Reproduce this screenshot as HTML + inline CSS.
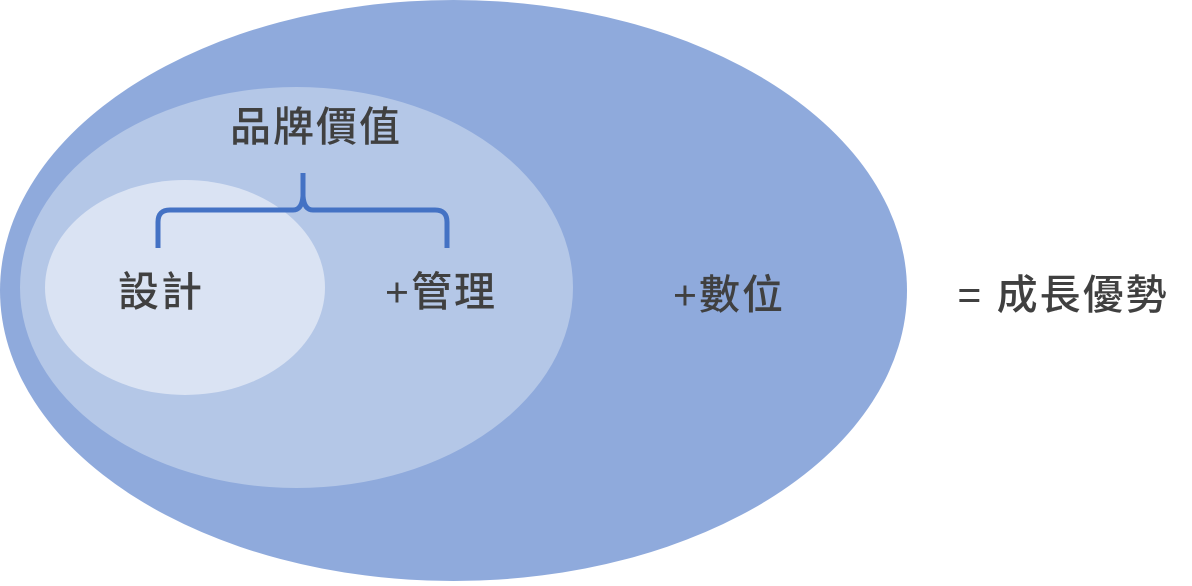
<!DOCTYPE html>
<html><head><meta charset="utf-8"><style>
html,body{margin:0;padding:0;background:#fff;}
body{width:1192px;height:581px;position:relative;overflow:hidden;}
text{font-family:"Liberation Sans","Noto Sans CJK TC",sans-serif;font-size:41px;fill:#404040;font-weight:500;letter-spacing:2px;}
</style></head><body>
<svg width="1192" height="581" viewBox="0 0 1192 581" xmlns="http://www.w3.org/2000/svg">
<ellipse cx="453.5" cy="290.5" rx="453.5" ry="290.5" fill="#8faadc"/>
<ellipse cx="296.5" cy="287.5" rx="276.5" ry="200.5" fill="#b4c7e7"/>
<ellipse cx="185" cy="287.5" rx="140" ry="107.5" fill="#dae3f3"/>
<path d="M158 248 V222 Q158 210 170 210 H293 Q302 210 303 196 V173 V196 Q304 210 313 210 H435 Q447 210 447 222 V248" fill="none" stroke="#4472c4" stroke-width="5"/>
<text x="316" y="141" text-anchor="middle">品牌價值</text>
<text x="161" y="306" text-anchor="middle">設計</text>
<text x="441" y="306" text-anchor="middle">+管理</text>
<text x="729" y="309" text-anchor="middle">+數位</text>
<text x="1063" y="309" text-anchor="middle">= 成長優勢</text>
</svg>
</body></html>
